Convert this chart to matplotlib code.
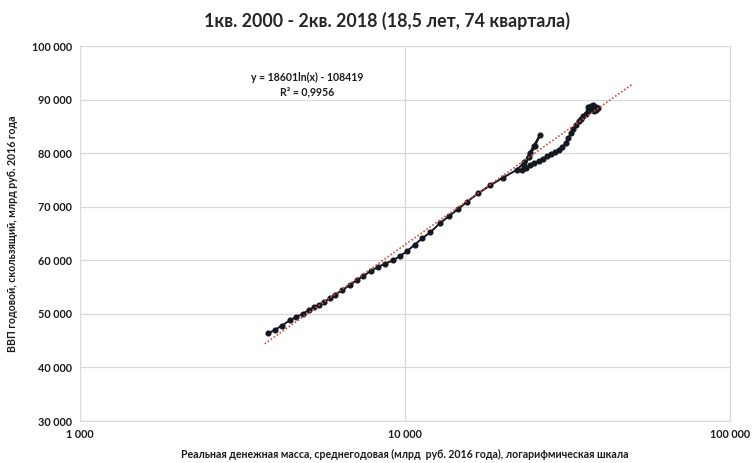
import numpy as np
import matplotlib
matplotlib.use("Agg")
import matplotlib.pyplot as plt
from matplotlib.ticker import FuncFormatter, FixedLocator, NullLocator

# real money supply (bn rub, 2016 prices), quarterly 1q2000 - 2q2018
money = [
    3800, 3980, 4180, 4420, 4620, 4850, 5050, 5250, 5420, 5650, 5880,
    6100, 6400, 6780, 7100, 7450, 7850, 8280, 8700, 9200, 9650, 10150,
    10700, 11300, 11950, 12800, 13700, 14600, 15500, 16800, 18300, 20000, 22100,
    23300, 24200, 24900, 26000,
    25100, 24100, 23300, 22900,
    23600, 24300, 25000, 25800, 26600, 27400, 28200, 29000,
    29800, 30500, 31200, 31800, 32400, 33000, 33600, 34200,
    34800, 35400, 36000, 36600, 37100, 37500, 37000, 36500, 36900,
    37600, 38200, 38800, 39200, 38600, 37900, 37300, 38000, 38700,
]
# annual rolling GDP (bn rub, 2016 prices)
gdp = [
    46400, 47000, 47800, 48800, 49400, 50000, 50700, 51200, 51650, 52300, 52900,
    53600, 54400, 55400, 56300, 57100, 58000, 58800, 59400, 60000, 60800, 61700,
    62900, 64100, 65200, 66900, 68300, 69600, 70900, 72500, 74000, 75400, 76900,
    78300, 80000, 81400, 83300,
    81300, 79200, 77600, 76900,
    77300, 77700, 78100, 78600, 79000, 79400, 79800, 80200,
    80600, 81100, 81900, 82800, 83700, 84500, 85300, 86000,
    86300, 86900, 87400, 87800, 88200, 88500, 88700, 88600, 88300,
    88000, 87900, 88100, 88400, 88700, 88900, 88800, 88400, 88200,
]

# log trend shown on chart: y = a*ln(x) + b
trend_a = 18601
trend_b = -108419
trend_range = [3700, 50000]

fig = plt.figure(figsize=(7.52, 4.63), dpi=100)
ax = fig.add_axes([0.1064, 0.0907, 0.8643, 0.8099])

ax.plot(money, gdp, color='#141820', marker='o', markersize=3.4,
        linewidth=1.4, zorder=3)

tx = np.geomspace(trend_range[0], trend_range[1], 200)
ax.plot(tx, trend_a * np.log(tx) + trend_b, color='#d0503a',
        linestyle=(0, (1, 1.2)), linewidth=1.2, zorder=4)

ax.set_xscale('log')
ax.set_xlim(1000, 100000)
ax.set_ylim(30000, 100000)
ax.xaxis.set_major_locator(FixedLocator([1000, 10000, 100000]))
ax.xaxis.set_minor_locator(NullLocator())
ax.yaxis.set_major_locator(FixedLocator(range(30000, 100001, 10000)))

fmt = FuncFormatter(lambda v, p: f"{int(v):,}".replace(",", " "))
ax.xaxis.set_major_formatter(fmt)
ax.yaxis.set_major_formatter(fmt)

ax.grid(True, color='#d9d9d9', linewidth=0.9)
ax.set_axisbelow(True)
for s in ax.spines.values():
    s.set_color('#d9d9d9')
ax.tick_params(length=0, labelsize=7.8, colors='#1a1a1a', pad=6)
for lbl in ax.get_xticklabels() + ax.get_yticklabels():
    lbl.set_fontweight('bold')
    lbl.set_fontfamily('Lato')

ax.set_xlabel('Реальная денежная масса, среднегодовая (млрд  руб. 2016 года), логарифмическая шкала',
              fontsize=7.6, fontweight='bold', family='Lato', labelpad=6,
              color='#1a1a1a')
ax.set_ylabel('ВВП годовой, скользящий, млрд руб. 2016 года',
              fontsize=7.6, fontweight='bold', family='Lato', labelpad=10,
              color='#1a1a1a')
fig.suptitle('1кв. 2000 - 2кв. 2018 (18,5 лет, 74 квартала)', x=0.515, y=0.975,
             fontsize=12.8, fontweight='bold', family='Lato', color='#262626')

ax.text(0.349, 0.93, 'y = 18601ln(x) - 108419\nR² = 0,9956', transform=ax.transAxes,
        ha='center', va='top', fontsize=7.6, fontweight='bold', family='Lato',
        linespacing=1.35, color='#1a1a1a')

fig.savefig('out.png', dpi=100)
